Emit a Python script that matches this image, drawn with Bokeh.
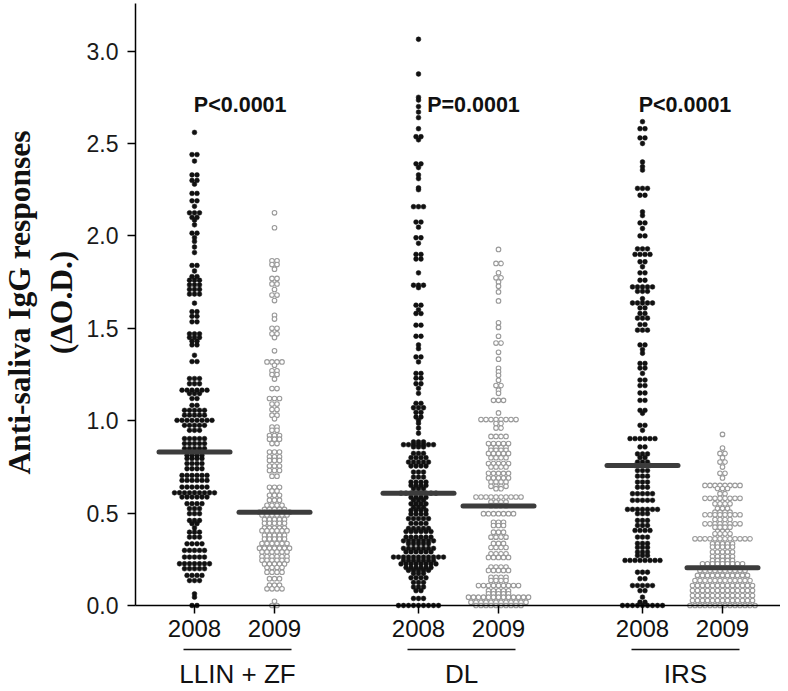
import math
import numpy as np
from bokeh.plotting import figure
from bokeh.models import LinearAxis, FixedTicker, Range1d, ColumnDataSource, NumeralTickFormatter
from bokeh.core.properties import value
from bokeh.embed import file_html
from bokeh.resources import INLINE

# ---------------- data ----------------
groups = ["LLIN + ZF", "DL", "IRS"]
years = ["2008", "2009", "2008", "2009", "2008", "2009"]
p_values = ["P<0.0001", "P=0.0001", "P<0.0001"]
medians = [0.83, 0.505, 0.608, 0.538, 0.758, 0.204]
y_ticks = [0.0, 0.5, 1.0, 1.5, 2.0, 2.5, 3.0]

# beeswarm rows: row value and number of dots in the row
llin08_y = [2.56, 2.44, 2.405, 2.33, 2.30, 2.28, 2.23, 2.19, 2.16, 2.125, 2.10, 2.085, 2.06, 2.015,
            1.99, 1.97, 1.94, 1.91, 1.84, 1.81, 1.78, 1.76, 1.735, 1.71, 1.685, 1.636, 1.59, 1.565,
            1.535, 1.47, 1.45, 1.43, 1.41, 1.354, 1.32, 1.228, 1.20, 1.165, 1.147, 1.12, 1.083, 1.056,
            1.03, 1.002, 0.975, 0.948, 0.903, 0.876, 0.849, 0.83, 0.8125, 0.795, 0.768, 0.74, 0.704,
            0.677, 0.641, 0.61, 0.587, 0.551, 0.524, 0.497, 0.46, 0.443, 0.42, 0.397, 0.37, 0.334,
            0.298, 0.262, 0.226, 0.199, 0.163, 0.135, 0.063, 0.045, 0.0]
llin08_n = [1, 2, 1, 2, 2, 1, 2, 2, 1, 3, 2, 1, 1, 2,
            1, 1, 1, 1, 2, 1, 2, 3, 3, 3, 3, 1, 2, 2,
            2, 3, 3, 2, 2, 1, 2, 3, 3, 6, 3, 2, 2, 5,
            5, 8, 5, 3, 5, 5, 5, 4, 4, 4, 4, 4, 6,
            6, 6, 9, 6, 4, 3, 3, 3, 2, 1, 3, 3, 4,
            5, 5, 7, 5, 4, 3, 1, 1, 2]

llin09_y = [2.125, 2.044, 1.865, 1.845, 1.82, 1.77, 1.74, 1.71, 1.68, 1.65, 1.57, 1.55, 1.50, 1.47,
            1.45, 1.378, 1.318, 1.30, 1.27, 1.25, 1.225, 1.174, 1.12, 1.09, 1.06, 1.03, 1.01, 0.966,
            0.948, 0.92, 0.90, 0.876, 0.83, 0.805, 0.785, 0.755, 0.73, 0.70, 0.64, 0.62, 0.596, 0.57,
            0.542, 0.52, 0.505, 0.49, 0.465, 0.445, 0.42, 0.405, 0.38, 0.36, 0.335, 0.31, 0.29, 0.265,
            0.245, 0.225, 0.205, 0.18, 0.145, 0.11, 0.09, 0.023, 0.0]
llin09_n = [1, 1, 2, 2, 1, 2, 2, 1, 2, 1, 1, 1, 2, 2,
            1, 1, 4, 1, 2, 2, 1, 2, 3, 2, 2, 2, 1, 2,
            2, 3, 3, 2, 3, 3, 3, 3, 3, 2, 3, 2, 3, 3,
            4, 5, 7, 6, 5, 5, 5, 6, 5, 5, 6, 7, 6, 6,
            6, 5, 4, 4, 3, 3, 4, 1, 2]

dl08_y = [3.064, 2.876, 2.75, 2.735, 2.70, 2.67, 2.64, 2.58, 2.537, 2.52, 2.39, 2.37, 2.33, 2.31,
          2.26, 2.25, 2.158, 2.075, 2.047, 1.99, 1.96, 1.90, 1.875, 1.80, 1.733, 1.72, 1.625, 1.60,
          1.58, 1.517, 1.457, 1.41, 1.39, 1.345, 1.318, 1.256, 1.23, 1.20, 1.175, 1.148, 1.094, 1.07,
          1.045, 1.02, 1.002, 0.986, 0.96, 0.932, 0.885, 0.87, 0.858, 0.823, 0.80, 0.776, 0.755,
          0.722, 0.695, 0.668, 0.65, 0.632, 0.608, 0.585, 0.569, 0.55, 0.532, 0.515, 0.495, 0.47,
          0.444, 0.417, 0.40, 0.37, 0.35, 0.334, 0.309, 0.29, 0.262, 0.244, 0.225, 0.205, 0.19,
          0.173, 0.15, 0.125, 0.10, 0.08, 0.038, 0.0]
dl08_n = [1, 1, 1, 1, 1, 1, 1, 1, 2, 1, 2, 1, 1, 1,
          1, 1, 3, 2, 1, 2, 1, 2, 2, 1, 3, 1, 2, 1,
          2, 2, 2, 1, 1, 2, 1, 2, 2, 2, 1, 1, 2, 3,
          2, 2, 1, 1, 1, 1, 3, 7, 3, 3, 4, 5, 4,
          3, 3, 4, 4, 3, 8, 4, 3, 4, 3, 4, 4, 5,
          4, 5, 6, 6, 7, 5, 7, 6, 11, 7, 8, 6, 5,
          3, 4, 3, 3, 2, 3, 9]

dl09_y = [1.927, 1.851, 1.80, 1.773, 1.75, 1.728, 1.697, 1.648, 1.53, 1.505, 1.457, 1.42, 1.37,
          1.333, 1.284, 1.265, 1.246, 1.219, 1.19, 1.165, 1.148, 1.11, 1.042, 1.006, 0.985, 0.96,
          0.915, 0.876, 0.855, 0.84, 0.823, 0.80, 0.768, 0.75, 0.715, 0.69, 0.668, 0.645, 0.632,
          0.587, 0.56, 0.54, 0.497, 0.45, 0.433, 0.397, 0.37, 0.336, 0.314, 0.28, 0.26, 0.208, 0.19,
          0.153, 0.135, 0.108, 0.08, 0.063, 0.045, 0.018, 0.0]
dl09_n = [1, 2, 1, 2, 1, 1, 1, 1, 1, 1, 1, 2, 1,
          1, 1, 1, 1, 1, 2, 1, 1, 3, 1, 8, 2, 2,
          4, 5, 4, 4, 5, 4, 5, 4, 5, 5, 4, 4, 2,
          10, 4, 4, 7, 3, 3, 3, 4, 3, 4, 4, 5, 4, 5,
          4, 4, 9, 5, 5, 13, 12, 10]

irs08_y = [2.618, 2.58, 2.53, 2.50, 2.40, 2.375, 2.356, 2.257, 2.22, 2.13, 2.11, 2.07, 2.04, 2.0,
           1.93, 1.90, 1.86, 1.833, 1.80, 1.76, 1.724, 1.70, 1.66, 1.637, 1.61, 1.58, 1.555, 1.52,
           1.49, 1.41, 1.385, 1.365, 1.31, 1.285, 1.256, 1.22, 1.19, 1.15, 1.11, 1.056, 1.04, 0.975,
           0.948, 0.903, 0.858, 0.82, 0.80, 0.776, 0.758, 0.73, 0.70, 0.668, 0.64, 0.605, 0.569,
           0.52, 0.497, 0.46, 0.433, 0.406, 0.37, 0.336, 0.314, 0.289, 0.27, 0.244, 0.18, 0.145,
           0.108, 0.08, 0.045, 0.018, 0.0]
irs08_n = [1, 2, 2, 1, 1, 1, 1, 3, 2, 1, 1, 2, 1, 2,
           3, 4, 2, 1, 2, 2, 5, 3, 1, 5, 2, 2, 3, 2,
           3, 2, 1, 1, 2, 2, 1, 2, 2, 2, 2, 2, 1, 2,
           1, 6, 2, 3, 2, 3, 4, 3, 3, 3, 3, 5, 5,
           7, 3, 3, 3, 4, 3, 3, 3, 3, 3, 8, 3, 2,
           5, 2, 1, 2, 9]

irs09_y = [0.926, 0.852, 0.823, 0.80, 0.776, 0.749, 0.715, 0.69, 0.65, 0.633, 0.605, 0.58, 0.55,
           0.525, 0.505, 0.491, 0.465, 0.442, 0.424, 0.40, 0.388, 0.361, 0.334, 0.316, 0.289, 0.265,
           0.244, 0.226, 0.204, 0.19, 0.163, 0.135, 0.108, 0.081, 0.054, 0.027, 0.0]
irs09_n = [1, 1, 2, 1, 2, 1, 2, 1, 8, 3, 2, 8, 4,
           3, 4, 8, 4, 8, 4, 3, 4, 12, 5, 5, 5, 5,
           5, 9, 6, 10, 11, 12, 13, 13, 13, 13, 14]

series_y = [llin08_y, llin09_y, dl08_y, dl09_y, irs08_y, irs09_y]
series_n = [llin08_n, llin09_n, dl08_n, dl09_n, irs08_n, irs09_n]

# ---------------- layout ----------------
positions = [0.0, 1.0, 2.8, 3.8, 5.6, 6.6]
W, H = 780, 690
X0, XPX = 194.0, 80.0       # canvas x of position 0, px per unit
Y0, YPX = 605.0, 184.8      # canvas y of value 0, px per unit
def dx(sx):
    return (sx - X0) / XPX
def dy(sy):
    return (Y0 - sy) / YPX

p = figure(width=W, height=H, output_backend="svg", toolbar_location=None,
           x_range=Range1d(dx(0), dx(W)), y_range=Range1d(dy(H), dy(0)),
           x_axis_type=None, y_axis_type=None, min_border=0,
           min_border_left=0, min_border_right=0, min_border_top=0, min_border_bottom=0)
p.outline_line_color = None
p.xgrid.visible = False
p.ygrid.visible = False
p.background_fill_color = "white"
p.border_fill_color = "white"

axis_x = dx(135)
yax = LinearAxis(fixed_location=axis_x, bounds=(0, dy(3)),
                 ticker=FixedTicker(ticks=y_ticks, minor_ticks=[]),
                 formatter=NumeralTickFormatter(format="0.0"))
yax.axis_line_width = 1.5
yax.major_tick_line_width = 1.5
yax.major_tick_out = 8
yax.major_tick_in = 0
yax.minor_tick_out = 0
yax.major_label_standoff = 9
yax.major_label_text_font = "Liberation Sans"
yax.major_label_text_font_size = "23px"
yax.major_label_text_color = "#1a1a1a"
p.add_layout(yax, "left")

xax = LinearAxis(fixed_location=0, bounds=(axis_x, dx(783)),
                 ticker=FixedTicker(ticks=positions, minor_ticks=[]))
xax.major_label_overrides = {pos: yr for pos, yr in zip(positions, years)}
xax.axis_line_width = 1.5
xax.major_tick_line_width = 1.5
xax.major_tick_out = 8
xax.major_tick_in = 0
xax.minor_tick_out = 0
xax.major_label_standoff = 6
xax.major_label_text_font = "Liberation Sans"
xax.major_label_text_font_size = "24px"
xax.major_label_text_color = "#111111"
p.add_layout(xax, "below")

# beeswarm points
step = 5.0 / XPX
for k in range(6):
    xs, ys = [], []
    for yv, n in zip(series_y[k], series_n[k]):
        for i in range(n):
            xs.append(positions[k] + (i - (n - 1) / 2.0) * step)
            ys.append(yv)
    src = ColumnDataSource(dict(x=xs, y=ys))
    if k % 2 == 0:
        p.scatter("x", "y", source=src, size=4.8, fill_color="#111111", line_color="#111111",
                  line_width=0.5)
    else:
        p.scatter("x", "y", source=src, size=4.6, fill_color="white", line_color="#999999",
                  line_width=1.1)

# median bars
half = 35.5 / XPX
p.segment(x0=[x - half for x in positions], x1=[x + half for x in positions],
          y0=medians, y1=medians, line_color="#3c3c3c", line_width=5, line_cap="round")

# P-values
p_x = [dx(239.7), dx(473), dx(684.5)]
p.text(x=p_x, y=[dy(104)] * 3, text=p_values, text_font=value("Liberation Sans"),
       text_font_style="bold", text_font_size="21.5px", text_align="center",
       text_baseline="alphabetic", text_color="#111111")

# group underlines and labels
mids = [(positions[0] + positions[1]) / 2, (positions[2] + positions[3]) / 2,
        (positions[4] + positions[5]) / 2]
shift = 3.0 / XPX
uhalf = 54.0 / XPX
p.segment(x0=[m + shift - uhalf for m in mids], x1=[m + shift + uhalf for m in mids],
          y0=[dy(649)] * 3, y1=[dy(649)] * 3, line_color="#111111", line_width=1.5)
p.text(x=[m + shift for m in mids], y=[dy(673)] * 3, text=groups,
       text_font=value("Liberation Sans"), text_font_size="26px", text_align="center",
       text_baseline="alphabetic", text_color="#111111")

# y-axis title (two lines, rotated)
p.text(x=[dx(18.5), dx(60.5)], y=[dy(302), dy(302)],
       text=["Anti-saliva IgG responses", "(\u0394O.D.)"], angle=math.pi / 2,
       text_font=value("Liberation Serif"), text_font_style="bold", text_font_size="31.5px",
       text_align="center", text_baseline="alphabetic", text_color="#111111")

open("out.html", "w").write(file_html(p, INLINE))
